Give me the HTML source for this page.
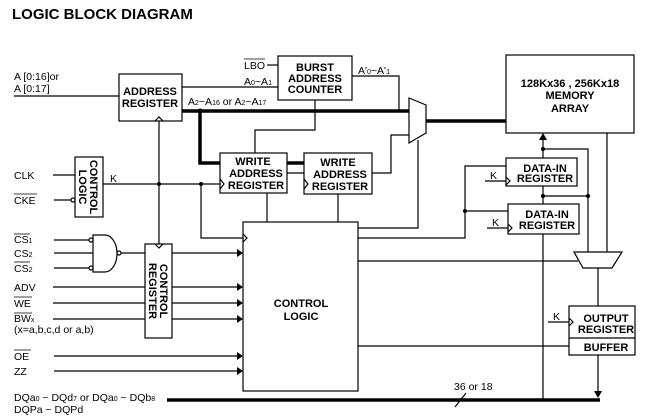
<!DOCTYPE html>
<html><head><style>
html,body{margin:0;padding:0;background:#fff;}
svg{display:block;}
text{font-family:"Liberation Sans",Arial,sans-serif;fill:#000;}
.b{font-weight:bold;font-size:11px;}
.n{font-size:10.5px;}
</style></head><body>
<svg width="653" height="419" viewBox="0 0 653 419" xmlns="http://www.w3.org/2000/svg">
<g stroke="#000" stroke-width="1.2" fill="none">
<rect x="119" y="74" width="63" height="47"/>
<rect x="278" y="56" width="74" height="44"/>
<rect x="506" y="55" width="128" height="78"/>
<rect x="220" y="153" width="67" height="40"/>
<rect x="304" y="153" width="68" height="41"/>
<rect x="75" y="157" width="28" height="60"/>
<rect x="506" y="158" width="71" height="28"/>
<rect x="508" y="204" width="71" height="30"/>
<rect x="145" y="244" width="27" height="94"/>
<rect x="243" y="222" width="115" height="169"/>
<rect x="569" y="306" width="66" height="49"/>
<line x1="569" y1="338" x2="635" y2="338"/>
<polygon points="409,98 426,105 426,133 409,143"/>
<polygon points="574,252 622,252 612,268 583,268"/>
<path d="M93,235 H105 A12,18.5 0 0 1 105,272 H93 Z"/>
<circle cx="119" cy="253" r="2"/>
<circle cx="91" cy="240" r="2"/>
<circle cx="91" cy="268" r="2"/>
<circle cx="73" cy="200" r="2"/>
<line x1="14" y1="96" x2="119" y2="96"/>
<line x1="267" y1="65" x2="278" y2="65"/>
<line x1="182" y1="87" x2="278" y2="87"/>
<line x1="53" y1="175" x2="75" y2="175"/>
<line x1="54" y1="200" x2="71" y2="200"/>
<line x1="54" y1="240" x2="89" y2="240"/>
<line x1="54" y1="253" x2="93" y2="253"/>
<line x1="54" y1="268" x2="89" y2="268"/>
<line x1="121" y1="253" x2="145" y2="253"/>
<line x1="53" y1="287" x2="145" y2="287"/>
<line x1="53" y1="303" x2="145" y2="303"/>
<line x1="53" y1="319" x2="145" y2="319"/>
<line x1="172" y1="253" x2="239" y2="253"/>
<line x1="172" y1="287" x2="239" y2="287"/>
<line x1="172" y1="303" x2="239" y2="303"/>
<line x1="172" y1="319" x2="239" y2="319"/>
<line x1="54" y1="356" x2="239" y2="356"/>
<line x1="54" y1="371" x2="239" y2="371"/>
<line x1="103" y1="184" x2="220" y2="184"/>
<line x1="159" y1="121" x2="159" y2="244"/>
<polyline points="201,184 201,238 243,238"/>
<polyline points="315,100 315,130 255,130 255,153"/>
<polyline points="352,76 399,76 399,111"/>
<line x1="287" y1="173" x2="304" y2="173"/>
<polyline points="372,173 391,173 391,135 409,135"/>
<line x1="267" y1="193" x2="267" y2="222"/>
<line x1="338" y1="194" x2="338" y2="222"/>
<polyline points="418,140 418,228 358,228"/>
<polyline points="358,238 465,238 465,166 506,166"/>
<line x1="465" y1="211" x2="508" y2="211"/>
<line x1="485" y1="181" x2="506" y2="181"/>
<line x1="487" y1="228" x2="508" y2="228"/>
<line x1="543" y1="138" x2="543" y2="158"/>
<line x1="543" y1="186" x2="543" y2="204"/>
<line x1="543" y1="234" x2="543" y2="400"/>
<polyline points="543,149 588,149 588,252"/>
<line x1="543" y1="196" x2="588" y2="196"/>
<line x1="607" y1="133" x2="607" y2="252"/>
<line x1="598" y1="268" x2="598" y2="306"/>
<line x1="358" y1="261" x2="578" y2="261"/>
<line x1="358" y1="346" x2="569" y2="346"/>
<line x1="548" y1="322" x2="569" y2="322"/>
<line x1="598" y1="355" x2="598" y2="393"/>
<line x1="455" y1="407" x2="466" y2="393"/>
<polyline points="220,179 224,184 220,189"/>
<polyline points="304,179 308,184 304,189"/>
<polyline points="243,234 247,238 243,242"/>
<polyline points="506,177 510,181 506,185"/>
<polyline points="508,224 512,228 508,232"/>
<polyline points="569,318 573,322 569,326"/>
<polyline points="155,121 159,117 163,121"/>
<polyline points="155,244 159,248 163,244"/>
</g>
<g stroke="#000" stroke-width="3.5" fill="none">
<line x1="182" y1="111" x2="409" y2="111"/>
<polyline points="200,111 200,163 220,163"/>
<line x1="287" y1="163" x2="304" y2="163"/>
<line x1="426" y1="121" x2="506" y2="121"/>
<line x1="167" y1="400" x2="600" y2="400"/>
</g>
<g fill="#000">
<circle cx="200" cy="111" r="2.5"/>
<circle cx="159" cy="184" r="2"/>
<circle cx="201" cy="184" r="2"/>
<circle cx="465" cy="211" r="2"/>
<circle cx="543" cy="149" r="2"/>
<circle cx="543" cy="196" r="2"/>
<circle cx="588" cy="196" r="2"/>
<polygon points="539,140 547,140 543,133"/>
<polygon points="594,391 602,391 598,398"/>
<polygon points="237,249 243,253 237,257"/>
<polygon points="237,283 243,287 237,291"/>
<polygon points="237,299 243,303 237,307"/>
<polygon points="237,315 243,319 237,323"/>
<polygon points="237,352 243,356 237,360"/>
<polygon points="237,367 243,371 237,375"/>
</g>
<text x="12" y="19" font-weight="bold" font-size="15">LOGIC BLOCK DIAGRAM</text>
<text class="n" x="14" y="80">A [0:16]or</text>
<text class="n" x="14" y="92">A [0:17]</text>
<text class="b" x="150" y="95" text-anchor="middle">ADDRESS</text>
<text class="b" x="150" y="107" text-anchor="middle">REGISTER</text>
<text class="b" x="315" y="71" text-anchor="middle">BURST</text>
<text class="b" x="315" y="82" text-anchor="middle">ADDRESS</text>
<text class="b" x="315" y="93" text-anchor="middle">COUNTER</text>
<text class="n" x="244" y="69">LBO</text>
<line x1="244" y1="59" x2="265" y2="59" stroke="#000" stroke-width="0.8"/>
<text class="n" x="244" y="85">A<tspan font-size="7">0</tspan>~A<tspan font-size="7">1</tspan></text>
<text class="n" x="188" y="105">A<tspan font-size="7">2</tspan>~A<tspan font-size="7">16</tspan> or A<tspan font-size="7">2</tspan>~A<tspan font-size="7">17</tspan></text>
<text class="n" x="358" y="74">A'<tspan font-size="7">0</tspan>~A'<tspan font-size="7">1</tspan></text>
<text class="b" x="570" y="87" text-anchor="middle">128Kx36 , 256Kx18</text>
<text class="b" x="570" y="99" text-anchor="middle">MEMORY</text>
<text class="b" x="570" y="112" text-anchor="middle">ARRAY</text>
<text class="b" x="253" y="165" text-anchor="middle">WRITE</text>
<text class="b" x="256" y="177" text-anchor="middle">ADDRESS</text>
<text class="b" x="256" y="189" text-anchor="middle">REGISTER</text>
<text class="b" x="338" y="166" text-anchor="middle">WRITE</text>
<text class="b" x="340" y="178" text-anchor="middle">ADDRESS</text>
<text class="b" x="340" y="190" text-anchor="middle">REGISTER</text>
<text class="b" transform="translate(90,187) rotate(90)" text-anchor="middle">CONTROL</text>
<text class="b" transform="translate(79,187) rotate(90)" text-anchor="middle">LOGIC</text>
<text class="n" x="14" y="179">CLK</text>
<text class="n" x="14" y="204">CKE</text>
<line x1="14" y1="194" x2="37" y2="194" stroke="#000" stroke-width="0.8"/>
<text class="n" x="110" y="182">K</text>
<text class="b" x="545" y="172" text-anchor="middle">DATA-IN</text>
<text class="b" x="545" y="182" text-anchor="middle">REGISTER</text>
<text class="b" x="547" y="218" text-anchor="middle">DATA-IN</text>
<text class="b" x="547" y="229" text-anchor="middle">REGISTER</text>
<text class="n" x="490" y="179">K</text>
<text class="n" x="492" y="226">K</text>
<text class="n" x="14" y="243">CS<tspan font-size="7">1</tspan></text>
<text class="n" x="14" y="257">CS<tspan font-size="7">2</tspan></text>
<text class="n" x="14" y="272">CS<tspan font-size="7">2</tspan></text>
<line x1="14" y1="234" x2="30" y2="234" stroke="#000" stroke-width="0.8"/>
<line x1="14" y1="262" x2="30" y2="262" stroke="#000" stroke-width="0.8"/>
<text class="n" x="14" y="291">ADV</text>
<text class="n" x="14" y="307">WE</text>
<line x1="14" y1="297" x2="32" y2="297" stroke="#000" stroke-width="0.8"/>
<text class="n" x="14" y="322">BW<tspan font-size="7">x</tspan></text>
<line x1="14" y1="313" x2="32" y2="313" stroke="#000" stroke-width="0.8"/>
<text class="n" x="14" y="333">(x=a,b,c,d or a,b)</text>
<text class="b" transform="translate(160,291) rotate(90)" text-anchor="middle">CONTROL</text>
<text class="b" transform="translate(149,291) rotate(90)" text-anchor="middle">REGISTER</text>
<text class="b" x="301" y="307" text-anchor="middle">CONTROL</text>
<text class="b" x="301" y="320" text-anchor="middle">LOGIC</text>
<text class="n" x="14" y="360">OE</text>
<line x1="14" y1="350" x2="31" y2="350" stroke="#000" stroke-width="0.8"/>
<text class="n" x="14" y="375">ZZ</text>
<text class="b" x="606" y="322" text-anchor="middle">OUTPUT</text>
<text class="b" x="606" y="333" text-anchor="middle">REGISTER</text>
<text class="b" x="606" y="351" text-anchor="middle">BUFFER</text>
<text class="n" x="553" y="320">K</text>
<text class="n" x="454" y="390">36 or 18</text>
<text class="n" x="14" y="401">DQa<tspan font-size="7">0</tspan> ~ DQd<tspan font-size="7">7</tspan> or DQa<tspan font-size="7">0</tspan> ~ DQb<tspan font-size="7">8</tspan></text>
<text class="n" x="14" y="413">DQPa ~ DQPd</text>
</svg>
</body></html>
